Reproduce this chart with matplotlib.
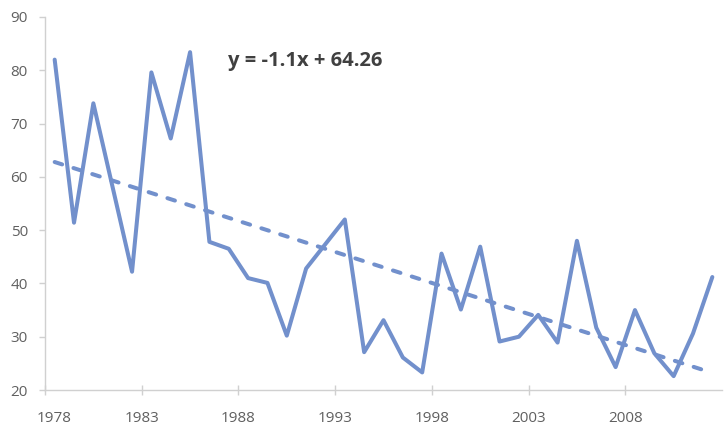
import numpy as np
import matplotlib
matplotlib.use("Agg")
import matplotlib.pyplot as plt
import matplotlib.transforms as mtransforms

# yearly values
years = list(range(1978, 2013))
values = [82.0, 51.4, 73.8, 58.0, 42.2, 79.6, 67.2, 83.4, 47.8, 46.5,
          41.0, 40.1, 30.2, 42.8, 47.4, 52.0, 27.1, 33.1, 26.1, 23.3,
          45.6, 35.1, 46.9, 29.1, 30.0, 34.1, 28.9, 48.0, 31.7, 24.3,
          35.0, 26.9, 22.6, 30.6, 41.2]
tick_years = [1978, 1983, 1988, 1993, 1998, 2003, 2008]
y_ticks = [20, 30, 40, 50, 60, 70, 80, 90]
equation = "y = -1.1x + 64.26"

line_color = "#7290CC"
axis_color = "#D0D0D0"
label_color = "#606060"

plt.rcParams['font.family'] = ['Open Sans', 'DejaVu Sans']

fig = plt.figure(figsize=(7.25, 4.28), dpi=100)
ax = fig.add_axes([45 / 725, 38 / 428, 677 / 725, 373 / 428])

x = np.arange(len(years))
ax.plot(x, values, color=line_color, linewidth=2.9,
        solid_joinstyle='round', solid_capstyle='round', zorder=3)

# linear trendline on category index 1..n (as the spreadsheet does)
slope, intercept = np.polyfit(x + 1, values, 1)
trend = slope * (x + 1) + intercept
ax.plot(x, trend, color=line_color, linewidth=2.9, dashes=(1.95, 2.95),
        dash_capstyle='round', zorder=2)

ax.text(305, 428 - 61, equation, transform=None, ha='center', va='center',
        fontsize=14.5, fontweight='bold', color='#404040')

ax.set_xlim(-0.5, len(years) - 0.5)
ax.set_ylim(20, 90)

# ticks sit between categories; labels follow the tick marks
tick_pos = [years.index(yr) - 0.5 for yr in tick_years]
ax.set_xticks(tick_pos)
ax.set_xticklabels([str(yr) for yr in tick_years])
ax.set_yticks(y_ticks)

ax.tick_params(axis='x', direction='inout', length=6.5, width=1.0,
               color=axis_color, labelcolor=label_color, labelsize=11, pad=12)
ax.tick_params(axis='y', direction='out', length=4.3, width=1.0,
               color=axis_color, labelcolor=label_color, labelsize=11, pad=8)

# first year label is nudged right like in the original
first = ax.get_xticklabels()[0]
first.set_transform(first.get_transform() +
                    mtransforms.ScaledTranslation(9 / 100, 0, fig.dpi_scale_trans))

for side in ['top', 'right']:
    ax.spines[side].set_visible(False)
for side in ['left', 'bottom']:
    ax.spines[side].set_color(axis_color)
    ax.spines[side].set_linewidth(1.0)

fig.savefig("out.png", dpi=100)
